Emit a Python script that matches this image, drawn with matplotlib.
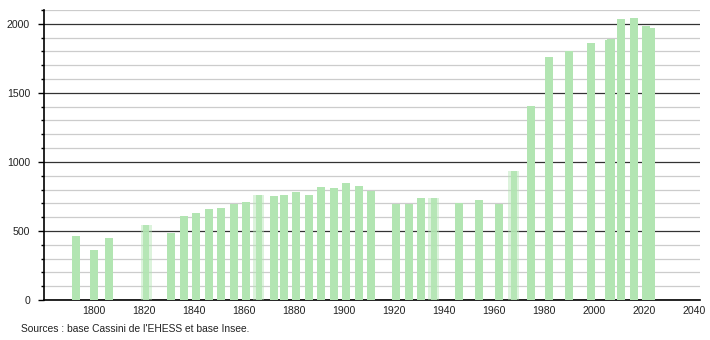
import numpy as np
import matplotlib
matplotlib.use('Agg')
import matplotlib.pyplot as plt

plt.rcParams['font.family'] = ['Liberation Sans', 'DejaVu Sans']

# census years and population
annees = [1793, 1800, 1806, 1821, 1831, 1836, 1841, 1846, 1851, 1856,
          1861, 1866, 1872, 1876, 1881, 1886, 1891, 1896, 1901, 1906,
          1911, 1921, 1926, 1931, 1936, 1946, 1954, 1962, 1968, 1975,
          1982, 1990, 1999, 2006, 2007, 2011, 2016, 2021, 2023]
population = [464, 362, 449, 543, 486, 609, 630, 659, 669, 696,
              710, 761, 754, 761, 783, 761, 819, 812, 845, 826,
              792, 693, 693, 737, 737, 700, 725, 693, 935, 1406,
              1759, 1800, 1860, 1885, 1893, 2034, 2043, 1986, 1969]
flous = [1821, 1866, 1936, 1968]   # bars drawn with soft edges

xticks = list(range(1800, 2041, 20))
yticks = [0, 500, 1000, 1500, 2000]
source = "Sources : base Cassini de l'EHESS et base Insee."

vert = '#b2e5b2'

fig = plt.figure(figsize=(7.1, 3.4), dpi=100)
ax = fig.add_axes([44/710, 1 - 300/340, (700 - 44)/710, 290/340])

largeur = 3.2
for a, p in zip(annees, population):
    if a in flous:
        ax.bar(a, p, width=largeur + 1.2, color=vert, alpha=0.45, zorder=3)
        ax.bar(a, p, width=largeur - 0.8, color=vert, alpha=0.9, zorder=3)
    else:
        ax.bar(a, p, width=largeur, color=vert, zorder=3)

ax.set_xlim(1780, 2042.5)
ax.set_ylim(0, 2100)

ax.set_yticks(yticks)
ax.set_yticks(np.arange(100, 2101, 100), minor=True)
ax.set_xticks(xticks)

ax.grid(which='major', axis='y', color='#333333', linewidth=0.9, zorder=1)
ax.grid(which='minor', axis='y', color='#cccccc', linewidth=0.9, zorder=1)
ax.set_axisbelow(True)

for s in ['top', 'right']:
    ax.spines[s].set_visible(False)
ax.spines['left'].set_linewidth(1.2)
ax.spines['bottom'].set_linewidth(1.2)

ax.tick_params(axis='y', which='major', length=4, width=1, pad=6,
               labelsize=7.6, labelcolor='#222222')
ax.tick_params(axis='y', which='minor', length=2, width=1)
ax.tick_params(axis='x', length=0, pad=4, labelsize=7.6, labelcolor='#222222')

fig.text(21/710, 1 - 329/340, source, fontsize=7.4, va='center', ha='left',
         color='#222222')

fig.savefig('out.png', dpi=100)
